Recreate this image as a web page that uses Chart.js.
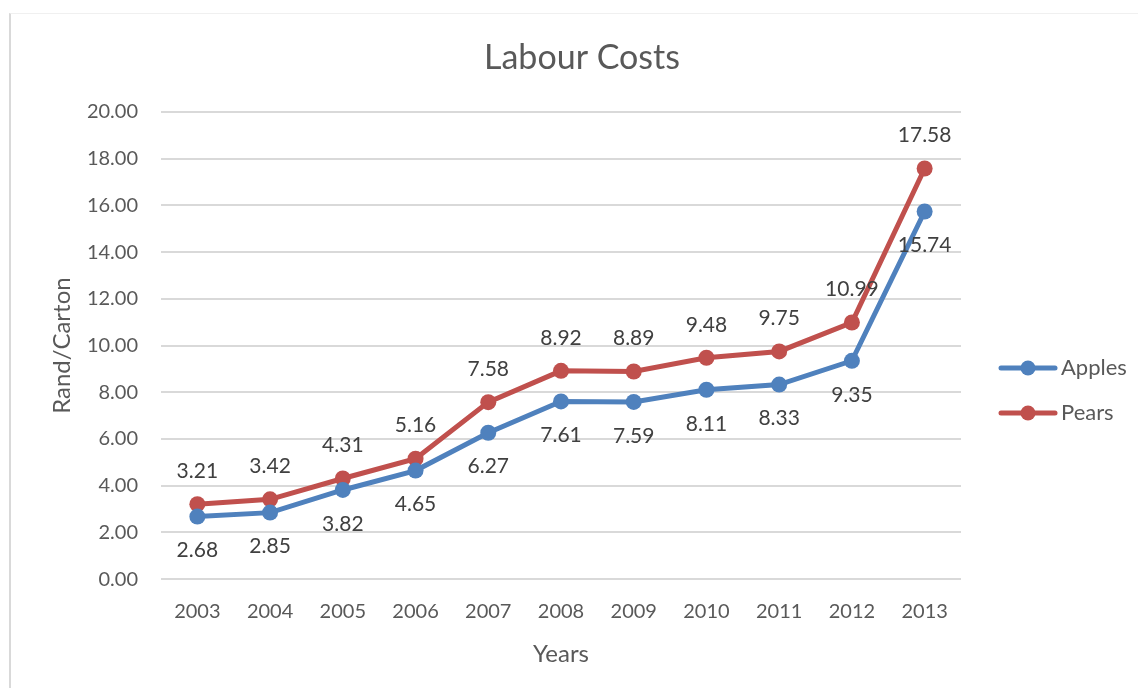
<!DOCTYPE html>
<html>
<head>
<meta charset="utf-8">
<script src="https://cdn.jsdelivr.net/npm/chart.js@4.4.0/dist/chart.umd.min.js"></script>
<style>
  body { margin: 0; background: #fff; }
  #wrap { position: relative; width: 1138px; height: 688px; }
  #frame { position: absolute; left: 9px; top: 13px; right: 0; bottom: 0;
           border-left: 2px solid #d9d9d9; border-top: 1px solid #f0f0f0; }
  canvas { position: absolute; left: 0; top: 0; }
</style>
</head>
<body>
<div id="wrap">
  <div id="frame"></div>
  <canvas id="myChart" width="1138" height="688"></canvas>
</div>
<script>
var anos = ['2003', '2004', '2005', '2006', '2007', '2008', '2009', '2010', '2011', '2012', '2013']
var apples = [2.68, 2.85, 3.82, 4.65, 6.27, 7.61, 7.59, 8.11, 8.33, 9.35, 15.74]
var pears = [3.21, 3.42, 4.31, 5.16, 7.58, 8.92, 8.89, 9.48, 9.75, 10.99, 17.58]
var nomes = ['Apples', 'Pears']
var cores = ['#4F81BD', '#C0504D']
var titulo = 'Labour Costs'

var fonte = 'Lato, "Open Sans", sans-serif'

// titulo desenhado a mao pra ficar no lugar do excel
var tituloPlugin = {
  id: 'tituloPlugin',
  afterDraw: function (chart) {
    var ctx = chart.ctx
    ctx.save()
    ctx.font = '34px ' + fonte
    ctx.fillStyle = '#595959'
    ctx.textAlign = 'center'
    ctx.textBaseline = 'middle'
    ctx.fillText(titulo, 582, 58)
    ctx.restore()
  }
}

// rotulos de dados: apples embaixo, pears em cima
var rotulos = {
  id: 'rotulos',
  afterDatasetsDraw: function (chart) {
    var ctx = chart.ctx
    ctx.save()
    ctx.font = '21px ' + fonte
    ctx.fillStyle = '#404040'
    ctx.textAlign = 'center'
    ctx.textBaseline = 'middle'
    chart.data.datasets.forEach(function (ds, i) {
      var meta = chart.getDatasetMeta(i)
      meta.data.forEach(function (p, j) {
        var dy = i == 0 ? 34 : -33
        ctx.fillText(ds.data[j].toFixed(2), p.x, p.y + dy)
      })
    })
    ctx.restore()
  }
}

// legenda estilo excel (linha + bolinha)
var legenda = {
  id: 'legenda',
  afterDraw: function (chart) {
    var ctx = chart.ctx
    var area = chart.chartArea
    var x0 = area.right + 40
    ctx.save()
    ctx.font = '22px ' + fonte
    ctx.textBaseline = 'middle'
    chart.data.datasets.forEach(function (ds, i) {
      var y = 368 + i * 45
      ctx.strokeStyle = ds.borderColor
      ctx.lineWidth = 5
      ctx.lineCap = 'round'
      ctx.beginPath()
      ctx.moveTo(x0, y)
      ctx.lineTo(x0 + 54, y)
      ctx.stroke()
      ctx.fillStyle = ds.borderColor
      ctx.beginPath()
      ctx.arc(x0 + 27, y, 7.5, 0, Math.PI * 2)
      ctx.fill()
      ctx.fillStyle = '#595959'
      ctx.fillText(ds.label, x0 + 60, y)
    })
    ctx.restore()
  }
}

const ctx = document.getElementById('myChart')

new Chart(ctx, {
  type: 'line',
  data: {
    labels: anos,
    datasets: [{
      label: nomes[0],
      data: apples,
      borderColor: cores[0],
      backgroundColor: cores[0],
      borderWidth: 5,
      pointRadius: 8,
      pointBorderWidth: 0,
      tension: 0
    }, {
      label: nomes[1],
      data: pears,
      borderColor: cores[1],
      backgroundColor: cores[1],
      borderWidth: 5,
      pointRadius: 8,
      pointBorderWidth: 0,
      tension: 0
    }]
  },
  options: {
    responsive: false,
    animation: false,
    events: [],
    layout: {
      padding: { left: 40, right: 177, top: 112, bottom: 15 }
    },
    scales: {
      x: {
        offset: true,
        grid: { display: false },
        border: { display: false },
        ticks: { color: '#595959', font: { family: fonte, size: 20 }, padding: 12 },
        title: { display: true, text: 'Years', color: '#595959', font: { family: fonte, size: 24 }, padding: { top: 5 } }
      },
      y: {
        min: 0,
        max: 20,
        afterFit: function (scale) { scale.width = 121 },
        grid: { color: '#d9d9d9', lineWidth: 2, drawTicks: false },
        border: { display: false },
        ticks: {
          stepSize: 2,
          color: '#595959',
          font: { family: fonte, size: 20 },
          padding: 23,
          callback: function (v) { return v.toFixed(2) }
        },
        title: { display: true, text: 'Rand/Carton', color: '#595959', font: { family: fonte, size: 24 }, padding: { top: 8, bottom: 0 } }
      }
    },
    plugins: {
      legend: { display: false },
      tooltip: { enabled: false },
      title: { display: false }
    }
  },
  plugins: [rotulos, legenda, tituloPlugin]
})
</script>
</body>
</html>
